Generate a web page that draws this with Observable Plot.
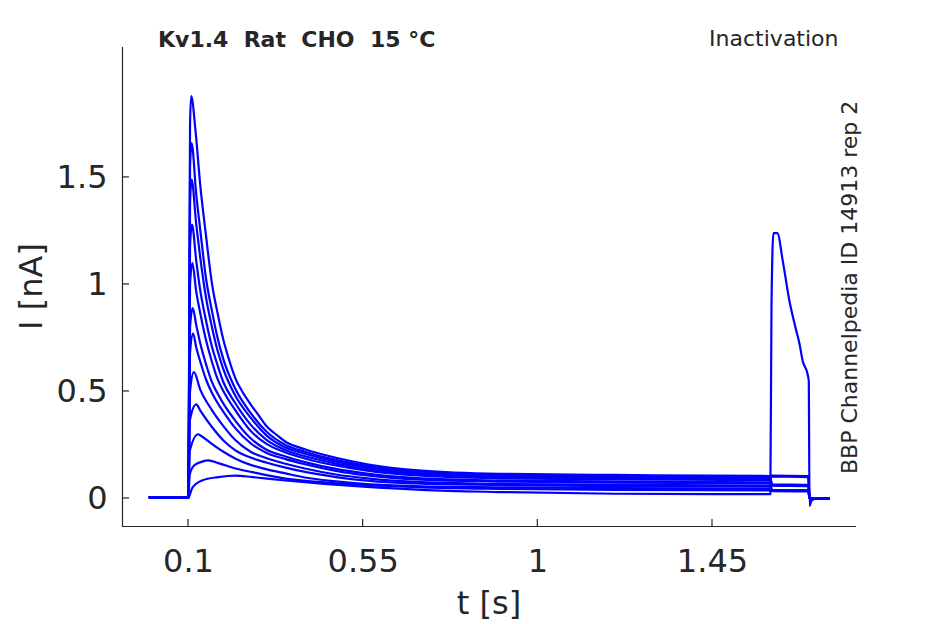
<!DOCTYPE html>
<html><head><meta charset="utf-8">
<script src="https://cdn.jsdelivr.net/npm/d3@7"></script>
<script src="https://cdn.jsdelivr.net/npm/@observablehq/plot@0.6"></script>
<style>html,body{margin:0;padding:0;background:#fff;} svg{display:block}</style>
</head><body><div id="chart"></div>
<script>
// ---- texts ----
const titleText = "Kv1.4  Rat  CHO  15 °C";
const protocolText = "Inactivation";
const sourceText = "BBP Channelpedia ID 14913 rep 2";
const xLabel = "t [s]";
const yLabel = "I [nA]";

// ---- ticks ----
const xTicks = [0.1, 0.55, 1, 1.45];
const xTickLabels = ["0.1", "0.55", "1", "1.45"];
const yTicks = [0, 0.5, 1, 1.5];
const yTickLabels = ["0", "0.5", "1", "1.5"];
const xDomain = [-0.07, 1.821];
const yDomain = [-0.131, 2.107];

// ---- traces: [t (s), I (nA)] ----
const trace1 = [[0,0.005],[0.1,0.005],[0.104,1.75],[0.107,1.88],[0.118,1.72],[0.13,1.47],[0.145,1.23],[0.16,1.01],[0.175,0.865],[0.19,0.74],[0.205,0.645],[0.22,0.565],[0.24,0.495],[0.26,0.44],[0.28,0.39],[0.30,0.34],[0.325,0.30],[0.35,0.265],[0.40,0.23],[0.48,0.19],[0.56,0.16],[0.70,0.13],[0.90,0.115],[1.20,0.11],[1.60,0.105],[1.603,0.107],[1.697,0.105],[1.70,0.002],[1.75,0.0]];
const trace2 = [[0,0.005],[0.1,0.004],[0.104,1.55],[0.108,1.66],[0.12,1.42],[0.13,1.26],[0.145,1.03],[0.16,0.88],[0.175,0.75],[0.19,0.65],[0.22,0.515],[0.26,0.40],[0.30,0.314],[0.35,0.25],[0.40,0.218],[0.48,0.18],[0.56,0.152],[0.70,0.124],[0.90,0.11],[1.20,0.105],[1.60,0.10],[1.603,0.104],[1.697,0.103],[1.70,0.001],[1.75,0.0]];
const trace3 = [[0,0.005],[0.1,0.005],[0.104,1.38],[0.108,1.49],[0.12,1.28],[0.13,1.13],[0.145,0.94],[0.16,0.805],[0.175,0.69],[0.19,0.603],[0.22,0.482],[0.26,0.378],[0.30,0.296],[0.35,0.238],[0.40,0.209],[0.48,0.172],[0.56,0.145],[0.70,0.118],[0.90,0.105],[1.20,0.10],[1.60,0.095],[1.603,0.103],[1.697,0.1],[1.70,0.0],[1.75,0.0]];
const trace4 = [[0,0.005],[0.1,0.005],[0.104,1.18],[0.109,1.28],[0.12,1.11],[0.13,0.976],[0.145,0.833],[0.16,0.712],[0.175,0.622],[0.19,0.543],[0.22,0.447],[0.26,0.345],[0.30,0.275],[0.35,0.226],[0.40,0.197],[0.48,0.163],[0.56,0.137],[0.70,0.112],[0.90,0.099],[1.20,0.095],[1.60,0.09],[1.603,0.066],[1.697,0.064],[1.70,0.0],[1.75,0.0]];
const trace5 = [[0,0.005],[0.1,0.005],[0.104,1.0],[0.11,1.10],[0.12,0.966],[0.13,0.869],[0.145,0.741],[0.16,0.641],[0.175,0.558],[0.19,0.501],[0.22,0.414],[0.26,0.316],[0.30,0.256],[0.35,0.215],[0.40,0.187],[0.48,0.154],[0.56,0.13],[0.70,0.106],[0.90,0.094],[1.20,0.089],[1.60,0.085],[1.603,0.064],[1.697,0.062],[1.70,0.0],[1.75,0.0]];
const trace6 = [[0,0.005],[0.1,0.005],[0.104,0.80],[0.111,0.89],[0.12,0.81],[0.13,0.727],[0.145,0.628],[0.16,0.546],[0.175,0.49],[0.19,0.443],[0.22,0.365],[0.26,0.281],[0.30,0.229],[0.35,0.196],[0.40,0.17],[0.48,0.138],[0.56,0.116],[0.70,0.094],[0.90,0.084],[1.20,0.079],[1.60,0.075],[1.603,0.062],[1.697,0.06],[1.70,0.0],[1.75,0.0]];
const trace7 = [[0,0.005],[0.1,0.005],[0.104,0.68],[0.112,0.77],[0.12,0.705],[0.13,0.642],[0.145,0.557],[0.16,0.495],[0.175,0.446],[0.19,0.405],[0.22,0.33],[0.26,0.258],[0.30,0.214],[0.35,0.184],[0.40,0.16],[0.48,0.129],[0.56,0.108],[0.70,0.088],[0.90,0.079],[1.20,0.074],[1.60,0.07],[1.603,0.06],[1.697,0.058],[1.70,0.0],[1.75,0.0]];
const trace8 = [[0,0.005],[0.1,0.005],[0.104,0.50],[0.114,0.59],[0.13,0.51],[0.16,0.414],[0.19,0.338],[0.22,0.274],[0.26,0.218],[0.30,0.189],[0.35,0.162],[0.40,0.14],[0.48,0.112],[0.56,0.094],[0.70,0.076],[0.90,0.068],[1.20,0.064],[1.60,0.06],[1.603,0.04],[1.697,0.038],[1.70,0.0],[1.75,0.0]];
const trace9 = [[0,0.005],[0.1,0.005],[0.103,0.36],[0.12,0.44],[0.13,0.412],[0.16,0.335],[0.19,0.271],[0.22,0.226],[0.26,0.191],[0.30,0.168],[0.35,0.144],[0.40,0.124],[0.48,0.10],[0.56,0.083],[0.70,0.069],[0.90,0.063],[1.20,0.058],[1.60,0.055],[1.603,0.04],[1.697,0.038],[1.70,0.0],[1.75,0.0]];
const trace10 = [[0,0.005],[0.1,0.005],[0.103,0.22],[0.125,0.30],[0.13,0.295],[0.16,0.255],[0.19,0.218],[0.22,0.187],[0.26,0.157],[0.30,0.137],[0.35,0.117],[0.40,0.098],[0.48,0.08],[0.56,0.067],[0.70,0.057],[0.90,0.052],[1.20,0.048],[1.60,0.045],[1.603,0.036],[1.697,0.035],[1.70,0.0],[1.75,0.0]];
const trace11 = [[0,0.005],[0.1,0.005],[0.103,0.11],[0.115,0.155],[0.135,0.172],[0.151,0.178],[0.177,0.165],[0.221,0.14],[0.264,0.123],[0.35,0.093],[0.45,0.075],[0.56,0.062],[0.70,0.052],[0.90,0.045],[1.20,0.04],[1.60,0.038],[1.603,0.034],[1.697,0.033],[1.70,0.0],[1.75,0.0]];
const trace12 = [[0,0.005],[0.1,0.005],[0.103,0.015],[0.11,0.05],[0.135,0.084],[0.177,0.10],[0.221,0.107],[0.264,0.10],[0.35,0.084],[0.45,0.068],[0.55,0.055],[0.70,0.04],[0.90,0.03],[1.20,0.022],[1.599,0.02],[1.602,0.9],[1.607,1.24],[1.617,1.24],[1.631,1.11],[1.648,0.925],[1.665,0.79],[1.674,0.724],[1.682,0.645],[1.695,0.58],[1.698,0.55],[1.70,-0.035],[1.705,-0.01],[1.72,0.0],[1.75,0.0]];

const traces = [trace1, trace2, trace3, trace4, trace5, trace6, trace7, trace8, trace9, trace10, trace11, trace12];
const rows = [];
traces.forEach((tr, i) => tr.forEach(([t, v]) => rows.push({trace: i + 1, t, v})));

const ink = "#262626";
const chart = Plot.plot({
  width: 945, height: 624,
  marginLeft: 122, marginRight: 89, marginTop: 47, marginBottom: 98,
  style: {fontFamily: "DejaVu Sans", color: ink, background: "white", overflow: "visible"},
  x: {domain: xDomain},
  y: {domain: yDomain},
  marks: [
    Plot.line(rows, {x: "t", y: "v", z: "trace", stroke: "#0000ff", strokeWidth: 2.2, curve: "monotone-x"}),
    Plot.ruleY([yDomain[0]], {stroke: ink, strokeWidth: 1.2}),
    Plot.ruleX([xDomain[0]], {stroke: ink, strokeWidth: 1.2}),
    Plot.axisX(xTicks, {tickSize: 0, tickPadding: 23, fontSize: 32, tickFormat: (d, i) => xTickLabels[i], label: null}),
    Plot.axisY(yTicks, {tickSize: 0, tickPadding: 15, fontSize: 32, tickFormat: (d, i) => yTickLabels[i], label: null})
  ]
});
document.getElementById("chart").appendChild(chart);

// inward tick marks and annotations, placed through the plot's scales
const sx = chart.scale("x"), sy = chart.scale("y");
const svg = d3.select(chart);
const x0 = sx.apply(xDomain[0]), y0 = sy.apply(yDomain[0]);
const g = svg.append("g").attr("stroke", ink).attr("stroke-width", 1.2);
xTicks.forEach(t => g.append("line").attr("x1", sx.apply(t)).attr("x2", sx.apply(t)).attr("y1", y0).attr("y2", y0 - 7));
yTicks.forEach(v => g.append("line").attr("x1", x0).attr("x2", x0 + 7).attr("y1", sy.apply(v)).attr("y2", sy.apply(v)));

const tg = svg.append("g").attr("fill", ink).attr("font-family", "DejaVu Sans").attr("text-anchor", "start").style("white-space", "pre");
tg.append("text").attr("x", 158).attr("y", 47).attr("font-size", 22).attr("font-weight", "bold").attr("text-anchor", "start").text(titleText);
tg.append("text").attr("x", 838.5).attr("y", 46).attr("font-size", 22).attr("text-anchor", "end").text(protocolText);
tg.append("text").attr("transform", "translate(857,474) rotate(-90)").attr("font-size", 22).attr("text-anchor", "start").text(sourceText);
tg.append("text").attr("x", (sx.range[0] + sx.range[1]) / 2).attr("y", 614).attr("font-size", 32).attr("text-anchor", "middle").text(xLabel);
tg.append("text").attr("transform", `translate(42,${(sy.range[0] + sy.range[1]) / 2}) rotate(-90)`).attr("font-size", 32).attr("text-anchor", "middle").text(yLabel);
</script></body></html>
